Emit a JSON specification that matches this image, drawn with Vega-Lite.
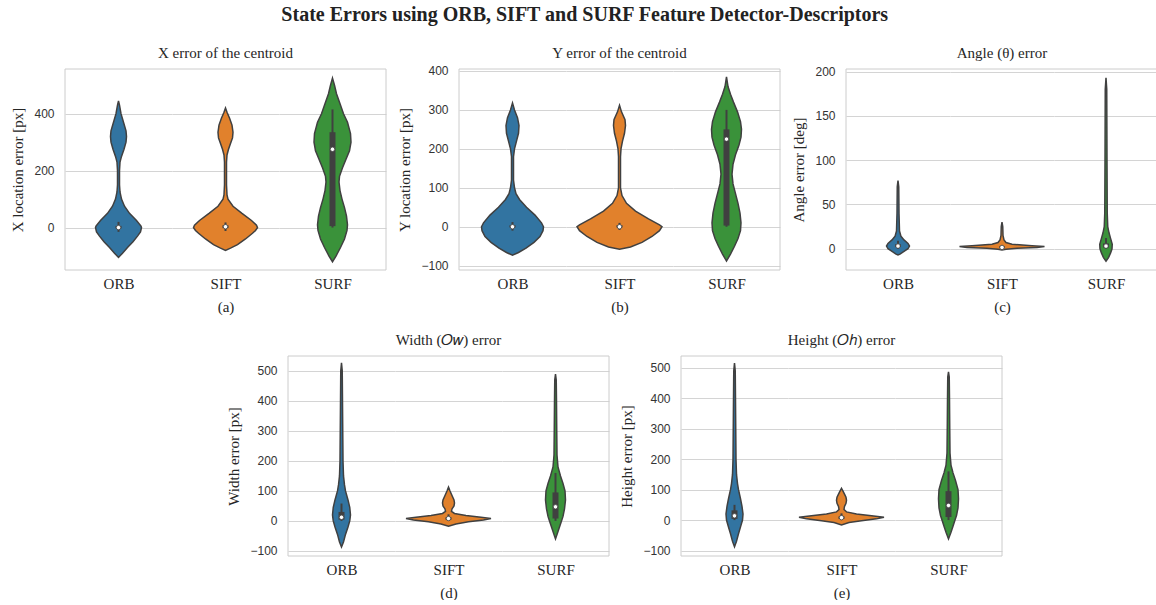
{
"$schema": "https://vega.github.io/schema/vega-lite/v6.json",
"background": "white",
"padding": {"left": 10, "top": 4, "right": 0, "bottom": 0},
"title": {"text": "State Errors using ORB, SIFT and SURF Feature Detector-Descriptors", "font": "Liberation Serif", "fontSize": 20, "fontWeight": "bold", "color": "#222222", "anchor": "middle", "offset": 21},
"config": {
  "view": {"stroke": null},
  "axis": {"gridColor": "#d4d4d4", "gridWidth": 1, "domain": false, "ticks": false, "tickSize": 0, "labelOverlap": false, "labelFont": "Liberation Sans", "labelFontSize": 12, "labelColor": "#333333", "labelPadding": 11, "titleFont": "Liberation Serif", "titleFontSize": 15, "titleFontWeight": "normal", "titleColor": "#262626"},
  "axisY": {"tickCount": 12},
  "title": {"font": "Liberation Serif", "fontWeight": "normal", "fontSize": 15, "color": "#262626"}
},
"datasets": {
  "aORB": [{"det":"ORB","v":445,"w":0},{"det":"ORB","v":430,"w":2},{"det":"ORB","v":400,"w":5},{"det":"ORB","v":370,"w":10},{"det":"ORB","v":340,"w":15},{"det":"ORB","v":320,"w":16},{"det":"ORB","v":300,"w":15},{"det":"ORB","v":275,"w":11},{"det":"ORB","v":250,"w":6},{"det":"ORB","v":230,"w":3},{"det":"ORB","v":200,"w":2},{"det":"ORB","v":150,"w":2},{"det":"ORB","v":125,"w":3},{"det":"ORB","v":100,"w":6},{"det":"ORB","v":75,"w":12},{"det":"ORB","v":50,"w":22},{"det":"ORB","v":25,"w":36},{"det":"ORB","v":5,"w":45},{"det":"ORB","v":0,"w":46},{"det":"ORB","v":-15,"w":44},{"det":"ORB","v":-30,"w":38},{"det":"ORB","v":-50,"w":29},{"det":"ORB","v":-70,"w":18},{"det":"ORB","v":-90,"w":8},{"det":"ORB","v":-105,"w":0}],
  "aSIFT": [{"det":"SIFT","v":420,"w":0},{"det":"SIFT","v":405,"w":3},{"det":"SIFT","v":385,"w":8},{"det":"SIFT","v":360,"w":13},{"det":"SIFT","v":335,"w":15},{"det":"SIFT","v":315,"w":14},{"det":"SIFT","v":295,"w":10},{"det":"SIFT","v":275,"w":6},{"det":"SIFT","v":255,"w":3},{"det":"SIFT","v":230,"w":2},{"det":"SIFT","v":150,"w":2},{"det":"SIFT","v":115,"w":3},{"det":"SIFT","v":100,"w":5},{"det":"SIFT","v":75,"w":15},{"det":"SIFT","v":50,"w":33},{"det":"SIFT","v":25,"w":52},{"det":"SIFT","v":8,"w":62},{"det":"SIFT","v":0,"w":64},{"det":"SIFT","v":-10,"w":60},{"det":"SIFT","v":-20,"w":54},{"det":"SIFT","v":-40,"w":40},{"det":"SIFT","v":-60,"w":24},{"det":"SIFT","v":-72,"w":10},{"det":"SIFT","v":-80,"w":0}],
  "aSURF": [{"det":"SURF","v":525,"w":0},{"det":"SURF","v":500,"w":4},{"det":"SURF","v":470,"w":8},{"det":"SURF","v":440,"w":14},{"det":"SURF","v":400,"w":22},{"det":"SURF","v":370,"w":30},{"det":"SURF","v":330,"w":36},{"det":"SURF","v":300,"w":37},{"det":"SURF","v":270,"w":34},{"det":"SURF","v":240,"w":27},{"det":"SURF","v":210,"w":20},{"det":"SURF","v":180,"w":14},{"det":"SURF","v":160,"w":13},{"det":"SURF","v":130,"w":15},{"det":"SURF","v":100,"w":19},{"det":"SURF","v":70,"w":24},{"det":"SURF","v":40,"w":28},{"det":"SURF","v":10,"w":30},{"det":"SURF","v":-10,"w":29},{"det":"SURF","v":-40,"w":24},{"det":"SURF","v":-70,"w":16},{"det":"SURF","v":-100,"w":7},{"det":"SURF","v":-120,"w":0}],
  "bORB": [{"det":"ORB","v":318,"w":0},{"det":"ORB","v":300,"w":4},{"det":"ORB","v":280,"w":10},{"det":"ORB","v":260,"w":13},{"det":"ORB","v":240,"w":12},{"det":"ORB","v":220,"w":8},{"det":"ORB","v":200,"w":4},{"det":"ORB","v":180,"w":2},{"det":"ORB","v":120,"w":2},{"det":"ORB","v":100,"w":4},{"det":"ORB","v":85,"w":7},{"det":"ORB","v":70,"w":14},{"det":"ORB","v":50,"w":28},{"det":"ORB","v":30,"w":45},{"det":"ORB","v":10,"w":58},{"det":"ORB","v":0,"w":62},{"det":"ORB","v":-10,"w":61},{"det":"ORB","v":-25,"w":55},{"det":"ORB","v":-40,"w":43},{"det":"ORB","v":-55,"w":27},{"det":"ORB","v":-66,"w":12},{"det":"ORB","v":-73,"w":0}],
  "bSIFT": [{"det":"SIFT","v":312,"w":0},{"det":"SIFT","v":295,"w":4},{"det":"SIFT","v":275,"w":11},{"det":"SIFT","v":260,"w":12},{"det":"SIFT","v":240,"w":10},{"det":"SIFT","v":220,"w":6},{"det":"SIFT","v":200,"w":3},{"det":"SIFT","v":180,"w":2},{"det":"SIFT","v":100,"w":2},{"det":"SIFT","v":80,"w":5},{"det":"SIFT","v":60,"w":14},{"det":"SIFT","v":40,"w":32},{"det":"SIFT","v":20,"w":58},{"det":"SIFT","v":5,"w":80},{"det":"SIFT","v":0,"w":85},{"det":"SIFT","v":-10,"w":80},{"det":"SIFT","v":-25,"w":65},{"det":"SIFT","v":-40,"w":45},{"det":"SIFT","v":-52,"w":22},{"det":"SIFT","v":-58,"w":0}],
  "bSURF": [{"det":"SURF","v":385,"w":0},{"det":"SURF","v":360,"w":3},{"det":"SURF","v":340,"w":8},{"det":"SURF","v":320,"w":14},{"det":"SURF","v":295,"w":22},{"det":"SURF","v":270,"w":28},{"det":"SURF","v":250,"w":30},{"det":"SURF","v":230,"w":29},{"det":"SURF","v":210,"w":25},{"det":"SURF","v":185,"w":18},{"det":"SURF","v":160,"w":13},{"det":"SURF","v":135,"w":11},{"det":"SURF","v":110,"w":13},{"det":"SURF","v":85,"w":18},{"det":"SURF","v":60,"w":23},{"det":"SURF","v":35,"w":27},{"det":"SURF","v":10,"w":29},{"det":"SURF","v":-10,"w":28},{"det":"SURF","v":-30,"w":23},{"det":"SURF","v":-50,"w":16},{"det":"SURF","v":-70,"w":8},{"det":"SURF","v":-88,"w":0}],
  "cORB": [{"det":"ORB","v":77,"w":0},{"det":"ORB","v":70,"w":1.5},{"det":"ORB","v":40,"w":2},{"det":"ORB","v":20,"w":3},{"det":"ORB","v":14,"w":6},{"det":"ORB","v":10,"w":12},{"det":"ORB","v":6,"w":20},{"det":"ORB","v":3,"w":23},{"det":"ORB","v":0,"w":20},{"det":"ORB","v":-3,"w":12},{"det":"ORB","v":-6,"w":4},{"det":"ORB","v":-7,"w":0}],
  "cSIFT": [{"det":"SIFT","v":30,"w":0},{"det":"SIFT","v":25,"w":1.5},{"det":"SIFT","v":15,"w":2},{"det":"SIFT","v":10,"w":4},{"det":"SIFT","v":7,"w":8},{"det":"SIFT","v":5,"w":20},{"det":"SIFT","v":3.5,"w":60},{"det":"SIFT","v":2.5,"w":85},{"det":"SIFT","v":1.5,"w":70},{"det":"SIFT","v":0.5,"w":30},{"det":"SIFT","v":-0.5,"w":8},{"det":"SIFT","v":-1.5,"w":0}],
  "cSURF": [{"det":"SURF","v":193,"w":0},{"det":"SURF","v":180,"w":1.5},{"det":"SURF","v":100,"w":2},{"det":"SURF","v":40,"w":2.5},{"det":"SURF","v":25,"w":3.5},{"det":"SURF","v":18,"w":6},{"det":"SURF","v":12,"w":9},{"det":"SURF","v":5,"w":12.5},{"det":"SURF","v":0,"w":12},{"det":"SURF","v":-5,"w":9},{"det":"SURF","v":-10,"w":5},{"det":"SURF","v":-14,"w":0}],
  "dORB": [{"det":"ORB","v":527,"w":0},{"det":"ORB","v":500,"w":1.5},{"det":"ORB","v":400,"w":2},{"det":"ORB","v":300,"w":2.5},{"det":"ORB","v":200,"w":3},{"det":"ORB","v":150,"w":4},{"det":"ORB","v":120,"w":6},{"det":"ORB","v":100,"w":8},{"det":"ORB","v":70,"w":13},{"det":"ORB","v":45,"w":16.5},{"det":"ORB","v":20,"w":18},{"det":"ORB","v":0,"w":16.5},{"det":"ORB","v":-20,"w":13},{"det":"ORB","v":-45,"w":8},{"det":"ORB","v":-70,"w":4},{"det":"ORB","v":-87,"w":0}],
  "dSIFT": [{"det":"SIFT","v":113,"w":0},{"det":"SIFT","v":100,"w":3},{"det":"SIFT","v":85,"w":7},{"det":"SIFT","v":70,"w":11},{"det":"SIFT","v":60,"w":12},{"det":"SIFT","v":50,"w":11},{"det":"SIFT","v":40,"w":7},{"det":"SIFT","v":32,"w":6},{"det":"SIFT","v":25,"w":12},{"det":"SIFT","v":18,"w":35},{"det":"SIFT","v":12,"w":65},{"det":"SIFT","v":8,"w":85},{"det":"SIFT","v":3,"w":70},{"det":"SIFT","v":-3,"w":40},{"det":"SIFT","v":-10,"w":15},{"det":"SIFT","v":-18,"w":0}],
  "dSURF": [{"det":"SURF","v":490,"w":0},{"det":"SURF","v":470,"w":1.5},{"det":"SURF","v":400,"w":2},{"det":"SURF","v":300,"w":2.5},{"det":"SURF","v":220,"w":3},{"det":"SURF","v":180,"w":5},{"det":"SURF","v":150,"w":10},{"det":"SURF","v":125,"w":15},{"det":"SURF","v":100,"w":19},{"det":"SURF","v":70,"w":20},{"det":"SURF","v":40,"w":18},{"det":"SURF","v":15,"w":15},{"det":"SURF","v":0,"w":12},{"det":"SURF","v":-20,"w":8},{"det":"SURF","v":-40,"w":4},{"det":"SURF","v":-60,"w":0}],
  "eORB": [{"det":"ORB","v":516,"w":0},{"det":"ORB","v":490,"w":1.5},{"det":"ORB","v":400,"w":2},{"det":"ORB","v":300,"w":2.5},{"det":"ORB","v":200,"w":3},{"det":"ORB","v":150,"w":4},{"det":"ORB","v":120,"w":6},{"det":"ORB","v":100,"w":8},{"det":"ORB","v":70,"w":12},{"det":"ORB","v":45,"w":15},{"det":"ORB","v":20,"w":17},{"det":"ORB","v":0,"w":16},{"det":"ORB","v":-20,"w":12.5},{"det":"ORB","v":-45,"w":8},{"det":"ORB","v":-70,"w":4},{"det":"ORB","v":-88,"w":0}],
  "eSIFT": [{"det":"SIFT","v":104,"w":0},{"det":"SIFT","v":95,"w":3},{"det":"SIFT","v":85,"w":6},{"det":"SIFT","v":75,"w":9},{"det":"SIFT","v":65,"w":10},{"det":"SIFT","v":55,"w":9},{"det":"SIFT","v":45,"w":6},{"det":"SIFT","v":35,"w":5},{"det":"SIFT","v":27,"w":10},{"det":"SIFT","v":20,"w":30},{"det":"SIFT","v":14,"w":60},{"det":"SIFT","v":9,"w":85},{"det":"SIFT","v":4,"w":70},{"det":"SIFT","v":-2,"w":40},{"det":"SIFT","v":-8,"w":15},{"det":"SIFT","v":-16,"w":0}],
  "eSURF": [{"det":"SURF","v":487,"w":0},{"det":"SURF","v":470,"w":1.5},{"det":"SURF","v":400,"w":2},{"det":"SURF","v":300,"w":2.5},{"det":"SURF","v":220,"w":3},{"det":"SURF","v":180,"w":5},{"det":"SURF","v":155,"w":9},{"det":"SURF","v":130,"w":14},{"det":"SURF","v":100,"w":19},{"det":"SURF","v":70,"w":20},{"det":"SURF","v":40,"w":19},{"det":"SURF","v":15,"w":16},{"det":"SURF","v":0,"w":13},{"det":"SURF","v":-20,"w":9},{"det":"SURF","v":-40,"w":5},{"det":"SURF","v":-62,"w":0}],
  "aORBs": [{"lo":-15,"q1":-3,"med":0,"q3":6,"hi":20}],
  "aSIFTs": [{"lo":-12,"q1":-2,"med":3,"q3":8,"hi":18}],
  "aSURFs": [{"lo":0,"q1":5,"med":275,"q3":335,"hi":415}],
  "bORBs": [{"lo":-10,"q1":-2,"med":0,"q3":4,"hi":12}],
  "bSIFTs": [{"lo":-8,"q1":-2,"med":0,"q3":4,"hi":10}],
  "bSURFs": [{"lo":0,"q1":3,"med":225,"q3":250,"hi":300}],
  "cORBs": [{"lo":0,"q1":2,"med":3,"q3":5,"hi":9}],
  "cSIFTs": [{"lo":0,"q1":1,"med":1.5,"q3":2.5,"hi":4}],
  "cSURFs": [{"lo":0,"q1":1.5,"med":3,"q3":6,"hi":12}],
  "dORBs": [{"lo":0,"q1":4,"med":12,"q3":30,"hi":58}],
  "dSIFTs": [{"lo":0,"q1":4,"med":8,"q3":12,"hi":22}],
  "dSURFs": [{"lo":0,"q1":8,"med":47,"q3":95,"hi":160}],
  "eORBs": [{"lo":0,"q1":4,"med":14,"q3":32,"hi":50}],
  "eSIFTs": [{"lo":0,"q1":4,"med":8,"q3":12,"hi":22}],
  "eSURFs": [{"lo":0,"q1":10,"med":48,"q3":95,"hi":160}],
  "one": [{"k":1}]
},
"vconcat": [
{"hconcat": [
 {"hconcat": [
  {"width": 107, "height": 201, "layer": [
   {"data": {"name": "aORB"}, "mark": {"type": "area", "orient": "horizontal", "stroke": "#404040", "strokeWidth": 1.5, "opacity": 1},
    "encoding": {"y": {"field": "v", "type": "quantitative", "scale": {"domain": [-149, 557], "nice": false, "zero": false}, "axis": {"title": "X location error [px]", "values": [0, 200, 400], "tickCount": 12, "titlePadding": 8}},
     "x": {"field": "w", "type": "quantitative", "stack": "center", "scale": {"domain": [-30.5, 76.5], "nice": false, "zero": false}, "axis": {"title": "ORB", "labels": false, "grid": false, "titlePadding": 6}},
     "color": {"field": "det", "type": "nominal", "scale": {"domain": ["ORB", "SIFT", "SURF"], "range": ["#3274a1", "#e1812c", "#3a923a"]}, "legend": null}}},
   {"data": {"name": "aORBs"}, "mark": {"type": "rule", "color": "#404040", "strokeWidth": 2}, "encoding": {"x": {"datum": 23}, "y": {"field": "lo", "type": "quantitative"}, "y2": {"field": "hi"}}},
   {"data": {"name": "aORBs"}, "mark": {"type": "rule", "color": "#404040", "strokeWidth": 6}, "encoding": {"x": {"datum": 23}, "y": {"field": "q1", "type": "quantitative"}, "y2": {"field": "q3"}}},
   {"data": {"name": "aORBs"}, "mark": {"type": "point", "filled": true, "fill": "white", "stroke": "#404040", "strokeWidth": 0.8, "size": 20, "opacity": 1}, "encoding": {"x": {"datum": 23}, "y": {"field": "med", "type": "quantitative"}}},
   {"data": {"name": "one"}, "mark": {"type": "rule", "color": "#cccccc"}, "encoding": {"y": {"datum": 557}}},
   {"data": {"name": "one"}, "mark": {"type": "rule", "color": "#cccccc"}, "encoding": {"y": {"datum": -149}}},
   {"data": {"name": "one"}, "mark": {"type": "rule", "color": "#cccccc"}, "encoding": {"x": {"datum": -30.5}}}
  ]},
  {"width": 107, "height": 201, "title": {"text": "X error of the centroid", "offset": 8}, "layer": [
   {"data": {"name": "aSIFT"}, "mark": {"type": "area", "orient": "horizontal", "stroke": "#404040", "strokeWidth": 1.5, "opacity": 1},
    "encoding": {"y": {"field": "v", "type": "quantitative", "scale": {"domain": [-149, 557], "nice": false, "zero": false}, "axis": {"title": null, "labels": false, "values": [0, 200, 400], "tickCount": 12}},
     "x": {"field": "w", "type": "quantitative", "stack": "center", "scale": {"domain": [-21.5, 85.5], "nice": false, "zero": false}, "axis": {"title": ["SIFT", "(a)"], "titleLineHeight": 23, "labels": false, "grid": false, "titlePadding": 6}},
     "color": {"field": "det", "type": "nominal", "scale": {"domain": ["ORB", "SIFT", "SURF"], "range": ["#3274a1", "#e1812c", "#3a923a"]}, "legend": null}}},
   {"data": {"name": "aSIFTs"}, "mark": {"type": "rule", "color": "#404040", "strokeWidth": 2}, "encoding": {"x": {"datum": 32}, "y": {"field": "lo", "type": "quantitative"}, "y2": {"field": "hi"}}},
   {"data": {"name": "aSIFTs"}, "mark": {"type": "rule", "color": "#404040", "strokeWidth": 6}, "encoding": {"x": {"datum": 32}, "y": {"field": "q1", "type": "quantitative"}, "y2": {"field": "q3"}}},
   {"data": {"name": "aSIFTs"}, "mark": {"type": "point", "filled": true, "fill": "white", "stroke": "#404040", "strokeWidth": 0.8, "size": 20, "opacity": 1}, "encoding": {"x": {"datum": 32}, "y": {"field": "med", "type": "quantitative"}}},
   {"data": {"name": "one"}, "mark": {"type": "rule", "color": "#cccccc"}, "encoding": {"y": {"datum": 557}}},
   {"data": {"name": "one"}, "mark": {"type": "rule", "color": "#cccccc"}, "encoding": {"y": {"datum": -149}}}
  ]},
  {"width": 107, "height": 201, "layer": [
   {"data": {"name": "aSURF"}, "mark": {"type": "area", "orient": "horizontal", "stroke": "#404040", "strokeWidth": 1.5, "opacity": 1},
    "encoding": {"y": {"field": "v", "type": "quantitative", "scale": {"domain": [-149, 557], "nice": false, "zero": false}, "axis": {"title": null, "labels": false, "values": [0, 200, 400], "tickCount": 12}},
     "x": {"field": "w", "type": "quantitative", "stack": "center", "scale": {"domain": [-35, 72], "nice": false, "zero": false}, "axis": {"title": "SURF", "labels": false, "grid": false, "titlePadding": 6}},
     "color": {"field": "det", "type": "nominal", "scale": {"domain": ["ORB", "SIFT", "SURF"], "range": ["#3274a1", "#e1812c", "#3a923a"]}, "legend": null}}},
   {"data": {"name": "aSURFs"}, "mark": {"type": "rule", "color": "#404040", "strokeWidth": 2}, "encoding": {"x": {"datum": 18.5}, "y": {"field": "lo", "type": "quantitative"}, "y2": {"field": "hi"}}},
   {"data": {"name": "aSURFs"}, "mark": {"type": "rule", "color": "#404040", "strokeWidth": 6}, "encoding": {"x": {"datum": 18.5}, "y": {"field": "q1", "type": "quantitative"}, "y2": {"field": "q3"}}},
   {"data": {"name": "aSURFs"}, "mark": {"type": "point", "filled": true, "fill": "white", "stroke": "#404040", "strokeWidth": 0.8, "size": 20, "opacity": 1}, "encoding": {"x": {"datum": 18.5}, "y": {"field": "med", "type": "quantitative"}}},
   {"data": {"name": "one"}, "mark": {"type": "rule", "color": "#cccccc"}, "encoding": {"y": {"datum": 557}}},
   {"data": {"name": "one"}, "mark": {"type": "rule", "color": "#cccccc"}, "encoding": {"y": {"datum": -149}}},
   {"data": {"name": "one"}, "mark": {"type": "rule", "color": "#cccccc"}, "encoding": {"x": {"datum": 72}}}
  ]}
 ], "spacing": 0, "bounds": "flush", "resolve": {"scale": {"x": "independent", "y": "independent"}}},
 {"hconcat": [
  {"width": 107, "height": 201, "layer": [
   {"data": {"name": "bORB"}, "mark": {"type": "area", "orient": "horizontal", "stroke": "#404040", "strokeWidth": 1.5, "opacity": 1},
    "encoding": {"y": {"field": "v", "type": "quantitative", "scale": {"domain": [-111, 405], "nice": false, "zero": false}, "axis": {"title": "Y location error [px]", "values": [-100, 0, 100, 200, 300, 400], "tickCount": 12, "titlePadding": 8}},
     "x": {"field": "w", "type": "quantitative", "stack": "center", "scale": {"domain": [-22.5, 84.5], "nice": false, "zero": false}, "axis": {"title": "ORB", "labels": false, "grid": false, "titlePadding": 6}},
     "color": {"field": "det", "type": "nominal", "scale": {"domain": ["ORB", "SIFT", "SURF"], "range": ["#3274a1", "#e1812c", "#3a923a"]}, "legend": null}}},
   {"data": {"name": "bORBs"}, "mark": {"type": "rule", "color": "#404040", "strokeWidth": 2}, "encoding": {"x": {"datum": 31}, "y": {"field": "lo", "type": "quantitative"}, "y2": {"field": "hi"}}},
   {"data": {"name": "bORBs"}, "mark": {"type": "rule", "color": "#404040", "strokeWidth": 6}, "encoding": {"x": {"datum": 31}, "y": {"field": "q1", "type": "quantitative"}, "y2": {"field": "q3"}}},
   {"data": {"name": "bORBs"}, "mark": {"type": "point", "filled": true, "fill": "white", "stroke": "#404040", "strokeWidth": 0.8, "size": 20, "opacity": 1}, "encoding": {"x": {"datum": 31}, "y": {"field": "med", "type": "quantitative"}}},
   {"data": {"name": "one"}, "mark": {"type": "rule", "color": "#cccccc"}, "encoding": {"y": {"datum": 405}}},
   {"data": {"name": "one"}, "mark": {"type": "rule", "color": "#cccccc"}, "encoding": {"y": {"datum": -111}}},
   {"data": {"name": "one"}, "mark": {"type": "rule", "color": "#cccccc"}, "encoding": {"x": {"datum": -22.5}}}
  ]},
  {"width": 107, "height": 201, "title": {"text": "Y error of the centroid", "offset": 8}, "layer": [
   {"data": {"name": "bSIFT"}, "mark": {"type": "area", "orient": "horizontal", "stroke": "#404040", "strokeWidth": 1.5, "opacity": 1},
    "encoding": {"y": {"field": "v", "type": "quantitative", "scale": {"domain": [-111, 405], "nice": false, "zero": false}, "axis": {"title": null, "labels": false, "values": [-100, 0, 100, 200, 300, 400], "tickCount": 12}},
     "x": {"field": "w", "type": "quantitative", "stack": "center", "scale": {"domain": [-11, 96], "nice": false, "zero": false}, "axis": {"title": ["SIFT", "(b)"], "titleLineHeight": 23, "labels": false, "grid": false, "titlePadding": 6}},
     "color": {"field": "det", "type": "nominal", "scale": {"domain": ["ORB", "SIFT", "SURF"], "range": ["#3274a1", "#e1812c", "#3a923a"]}, "legend": null}}},
   {"data": {"name": "bSIFTs"}, "mark": {"type": "rule", "color": "#404040", "strokeWidth": 2}, "encoding": {"x": {"datum": 42.5}, "y": {"field": "lo", "type": "quantitative"}, "y2": {"field": "hi"}}},
   {"data": {"name": "bSIFTs"}, "mark": {"type": "rule", "color": "#404040", "strokeWidth": 6}, "encoding": {"x": {"datum": 42.5}, "y": {"field": "q1", "type": "quantitative"}, "y2": {"field": "q3"}}},
   {"data": {"name": "bSIFTs"}, "mark": {"type": "point", "filled": true, "fill": "white", "stroke": "#404040", "strokeWidth": 0.8, "size": 20, "opacity": 1}, "encoding": {"x": {"datum": 42.5}, "y": {"field": "med", "type": "quantitative"}}},
   {"data": {"name": "one"}, "mark": {"type": "rule", "color": "#cccccc"}, "encoding": {"y": {"datum": 405}}},
   {"data": {"name": "one"}, "mark": {"type": "rule", "color": "#cccccc"}, "encoding": {"y": {"datum": -111}}}
  ]},
  {"width": 107, "height": 201, "layer": [
   {"data": {"name": "bSURF"}, "mark": {"type": "area", "orient": "horizontal", "stroke": "#404040", "strokeWidth": 1.5, "opacity": 1},
    "encoding": {"y": {"field": "v", "type": "quantitative", "scale": {"domain": [-111, 405], "nice": false, "zero": false}, "axis": {"title": null, "labels": false, "values": [-100, 0, 100, 200, 300, 400], "tickCount": 12}},
     "x": {"field": "w", "type": "quantitative", "stack": "center", "scale": {"domain": [-38.5, 68.5], "nice": false, "zero": false}, "axis": {"title": "SURF", "labels": false, "grid": false, "titlePadding": 6}},
     "color": {"field": "det", "type": "nominal", "scale": {"domain": ["ORB", "SIFT", "SURF"], "range": ["#3274a1", "#e1812c", "#3a923a"]}, "legend": null}}},
   {"data": {"name": "bSURFs"}, "mark": {"type": "rule", "color": "#404040", "strokeWidth": 2}, "encoding": {"x": {"datum": 15}, "y": {"field": "lo", "type": "quantitative"}, "y2": {"field": "hi"}}},
   {"data": {"name": "bSURFs"}, "mark": {"type": "rule", "color": "#404040", "strokeWidth": 6}, "encoding": {"x": {"datum": 15}, "y": {"field": "q1", "type": "quantitative"}, "y2": {"field": "q3"}}},
   {"data": {"name": "bSURFs"}, "mark": {"type": "point", "filled": true, "fill": "white", "stroke": "#404040", "strokeWidth": 0.8, "size": 20, "opacity": 1}, "encoding": {"x": {"datum": 15}, "y": {"field": "med", "type": "quantitative"}}},
   {"data": {"name": "one"}, "mark": {"type": "rule", "color": "#cccccc"}, "encoding": {"y": {"datum": 405}}},
   {"data": {"name": "one"}, "mark": {"type": "rule", "color": "#cccccc"}, "encoding": {"y": {"datum": -111}}},
   {"data": {"name": "one"}, "mark": {"type": "rule", "color": "#cccccc"}, "encoding": {"x": {"datum": 68.5}}}
  ]}
 ], "spacing": 0, "bounds": "flush", "resolve": {"scale": {"x": "independent", "y": "independent"}}},
 {"hconcat": [
  {"width": 104, "height": 201, "layer": [
   {"data": {"name": "cORB"}, "mark": {"type": "area", "orient": "horizontal", "stroke": "#404040", "strokeWidth": 1.5, "opacity": 1},
    "encoding": {"y": {"field": "v", "type": "quantitative", "scale": {"domain": [-24, 203], "nice": false, "zero": false}, "axis": {"title": "Angle error [deg]", "values": [0, 50, 100, 150, 200], "tickCount": 12, "titlePadding": 8}},
     "x": {"field": "w", "type": "quantitative", "stack": "center", "scale": {"domain": [-40.5, 63.5], "nice": false, "zero": false}, "axis": {"title": "ORB", "labels": false, "grid": false, "titlePadding": 6}},
     "color": {"field": "det", "type": "nominal", "scale": {"domain": ["ORB", "SIFT", "SURF"], "range": ["#3274a1", "#e1812c", "#3a923a"]}, "legend": null}}},
   {"data": {"name": "cORBs"}, "mark": {"type": "rule", "color": "#404040", "strokeWidth": 2}, "encoding": {"x": {"datum": 11.5}, "y": {"field": "lo", "type": "quantitative"}, "y2": {"field": "hi"}}},
   {"data": {"name": "cORBs"}, "mark": {"type": "rule", "color": "#404040", "strokeWidth": 6}, "encoding": {"x": {"datum": 11.5}, "y": {"field": "q1", "type": "quantitative"}, "y2": {"field": "q3"}}},
   {"data": {"name": "cORBs"}, "mark": {"type": "point", "filled": true, "fill": "white", "stroke": "#404040", "strokeWidth": 0.8, "size": 20, "opacity": 1}, "encoding": {"x": {"datum": 11.5}, "y": {"field": "med", "type": "quantitative"}}},
   {"data": {"name": "one"}, "mark": {"type": "rule", "color": "#cccccc"}, "encoding": {"y": {"datum": 203}}},
   {"data": {"name": "one"}, "mark": {"type": "rule", "color": "#cccccc"}, "encoding": {"y": {"datum": -24}}},
   {"data": {"name": "one"}, "mark": {"type": "rule", "color": "#cccccc"}, "encoding": {"x": {"datum": -40.5}}}
  ]},
  {"width": 104, "height": 201, "title": {"text": "Angle (θ) error", "offset": 8}, "layer": [
   {"data": {"name": "cSIFT"}, "mark": {"type": "area", "orient": "horizontal", "stroke": "#404040", "strokeWidth": 1.5, "opacity": 1},
    "encoding": {"y": {"field": "v", "type": "quantitative", "scale": {"domain": [-24, 203], "nice": false, "zero": false}, "axis": {"title": null, "labels": false, "values": [0, 50, 100, 150, 200], "tickCount": 12}},
     "x": {"field": "w", "type": "quantitative", "stack": "center", "scale": {"domain": [-9.5, 94.5], "nice": false, "zero": false}, "axis": {"title": ["SIFT", "(c)"], "titleLineHeight": 23, "labels": false, "grid": false, "titlePadding": 6}},
     "color": {"field": "det", "type": "nominal", "scale": {"domain": ["ORB", "SIFT", "SURF"], "range": ["#3274a1", "#e1812c", "#3a923a"]}, "legend": null}}},
   {"data": {"name": "cSIFTs"}, "mark": {"type": "rule", "color": "#404040", "strokeWidth": 2}, "encoding": {"x": {"datum": 42.5}, "y": {"field": "lo", "type": "quantitative"}, "y2": {"field": "hi"}}},
   {"data": {"name": "cSIFTs"}, "mark": {"type": "rule", "color": "#404040", "strokeWidth": 6}, "encoding": {"x": {"datum": 42.5}, "y": {"field": "q1", "type": "quantitative"}, "y2": {"field": "q3"}}},
   {"data": {"name": "cSIFTs"}, "mark": {"type": "point", "filled": true, "fill": "white", "stroke": "#404040", "strokeWidth": 0.8, "size": 20, "opacity": 1}, "encoding": {"x": {"datum": 42.5}, "y": {"field": "med", "type": "quantitative"}}},
   {"data": {"name": "one"}, "mark": {"type": "rule", "color": "#cccccc"}, "encoding": {"y": {"datum": 203}}},
   {"data": {"name": "one"}, "mark": {"type": "rule", "color": "#cccccc"}, "encoding": {"y": {"datum": -24}}}
  ]},
  {"width": 104, "height": 201, "layer": [
   {"data": {"name": "cSURF"}, "mark": {"type": "area", "orient": "horizontal", "stroke": "#404040", "strokeWidth": 1.5, "opacity": 1},
    "encoding": {"y": {"field": "v", "type": "quantitative", "scale": {"domain": [-24, 203], "nice": false, "zero": false}, "axis": {"title": null, "labels": false, "values": [0, 50, 100, 150, 200], "tickCount": 12}},
     "x": {"field": "w", "type": "quantitative", "stack": "center", "scale": {"domain": [-45.75, 58.25], "nice": false, "zero": false}, "axis": {"title": "SURF", "labels": false, "grid": false, "titlePadding": 6}},
     "color": {"field": "det", "type": "nominal", "scale": {"domain": ["ORB", "SIFT", "SURF"], "range": ["#3274a1", "#e1812c", "#3a923a"]}, "legend": null}}},
   {"data": {"name": "cSURFs"}, "mark": {"type": "rule", "color": "#404040", "strokeWidth": 2}, "encoding": {"x": {"datum": 6.25}, "y": {"field": "lo", "type": "quantitative"}, "y2": {"field": "hi"}}},
   {"data": {"name": "cSURFs"}, "mark": {"type": "rule", "color": "#404040", "strokeWidth": 6}, "encoding": {"x": {"datum": 6.25}, "y": {"field": "q1", "type": "quantitative"}, "y2": {"field": "q3"}}},
   {"data": {"name": "cSURFs"}, "mark": {"type": "point", "filled": true, "fill": "white", "stroke": "#404040", "strokeWidth": 0.8, "size": 20, "opacity": 1}, "encoding": {"x": {"datum": 6.25}, "y": {"field": "med", "type": "quantitative"}}},
   {"data": {"name": "one"}, "mark": {"type": "rule", "color": "#cccccc"}, "encoding": {"y": {"datum": 203}}},
   {"data": {"name": "one"}, "mark": {"type": "rule", "color": "#cccccc"}, "encoding": {"y": {"datum": -24}}}
  ]}
 ], "spacing": 0, "bounds": "flush", "resolve": {"scale": {"x": "independent", "y": "independent"}}}
], "spacing": 10},
{"hconcat": [
 {"width": 152, "height": 10, "data": {"name": "one"}, "mark": {"type": "point", "opacity": 0}, "encoding": {}},
 {"hconcat": [
  {"width": 107, "height": 200, "layer": [
   {"data": {"name": "dORB"}, "mark": {"type": "area", "orient": "horizontal", "stroke": "#404040", "strokeWidth": 1.5, "opacity": 1},
    "encoding": {"y": {"field": "v", "type": "quantitative", "scale": {"domain": [-117, 550], "nice": false, "zero": false}, "axis": {"title": "Width error [px]", "values": [-100, 0, 100, 200, 300, 400, 500], "tickCount": 12, "titlePadding": 8}},
     "x": {"field": "w", "type": "quantitative", "stack": "center", "scale": {"domain": [-44.5, 62.5], "nice": false, "zero": false}, "axis": {"title": "ORB", "labels": false, "grid": false, "titlePadding": 6}},
     "color": {"field": "det", "type": "nominal", "scale": {"domain": ["ORB", "SIFT", "SURF"], "range": ["#3274a1", "#e1812c", "#3a923a"]}, "legend": null}}},
   {"data": {"name": "dORBs"}, "mark": {"type": "rule", "color": "#404040", "strokeWidth": 2}, "encoding": {"x": {"datum": 9}, "y": {"field": "lo", "type": "quantitative"}, "y2": {"field": "hi"}}},
   {"data": {"name": "dORBs"}, "mark": {"type": "rule", "color": "#404040", "strokeWidth": 6}, "encoding": {"x": {"datum": 9}, "y": {"field": "q1", "type": "quantitative"}, "y2": {"field": "q3"}}},
   {"data": {"name": "dORBs"}, "mark": {"type": "point", "filled": true, "fill": "white", "stroke": "#404040", "strokeWidth": 0.8, "size": 20, "opacity": 1}, "encoding": {"x": {"datum": 9}, "y": {"field": "med", "type": "quantitative"}}},
   {"data": {"name": "one"}, "mark": {"type": "rule", "color": "#cccccc"}, "encoding": {"y": {"datum": 550}}},
   {"data": {"name": "one"}, "mark": {"type": "rule", "color": "#cccccc"}, "encoding": {"y": {"datum": -117}}},
   {"data": {"name": "one"}, "mark": {"type": "rule", "color": "#cccccc"}, "encoding": {"x": {"datum": -44.5}}}
  ]},
  {"width": 107, "height": 200, "title": {"text": "Width (𝑂𝑤) error", "offset": 8}, "layer": [
   {"data": {"name": "dSIFT"}, "mark": {"type": "area", "orient": "horizontal", "stroke": "#404040", "strokeWidth": 1.5, "opacity": 1},
    "encoding": {"y": {"field": "v", "type": "quantitative", "scale": {"domain": [-117, 550], "nice": false, "zero": false}, "axis": {"title": null, "labels": false, "values": [-100, 0, 100, 200, 300, 400, 500], "tickCount": 12}},
     "x": {"field": "w", "type": "quantitative", "stack": "center", "scale": {"domain": [-11, 96], "nice": false, "zero": false}, "axis": {"title": ["SIFT", "(d)"], "titleLineHeight": 23, "labels": false, "grid": false, "titlePadding": 6}},
     "color": {"field": "det", "type": "nominal", "scale": {"domain": ["ORB", "SIFT", "SURF"], "range": ["#3274a1", "#e1812c", "#3a923a"]}, "legend": null}}},
   {"data": {"name": "dSIFTs"}, "mark": {"type": "rule", "color": "#404040", "strokeWidth": 2}, "encoding": {"x": {"datum": 42.5}, "y": {"field": "lo", "type": "quantitative"}, "y2": {"field": "hi"}}},
   {"data": {"name": "dSIFTs"}, "mark": {"type": "rule", "color": "#404040", "strokeWidth": 6}, "encoding": {"x": {"datum": 42.5}, "y": {"field": "q1", "type": "quantitative"}, "y2": {"field": "q3"}}},
   {"data": {"name": "dSIFTs"}, "mark": {"type": "point", "filled": true, "fill": "white", "stroke": "#404040", "strokeWidth": 0.8, "size": 20, "opacity": 1}, "encoding": {"x": {"datum": 42.5}, "y": {"field": "med", "type": "quantitative"}}},
   {"data": {"name": "one"}, "mark": {"type": "rule", "color": "#cccccc"}, "encoding": {"y": {"datum": 550}}},
   {"data": {"name": "one"}, "mark": {"type": "rule", "color": "#cccccc"}, "encoding": {"y": {"datum": -117}}}
  ]},
  {"width": 107, "height": 200, "layer": [
   {"data": {"name": "dSURF"}, "mark": {"type": "area", "orient": "horizontal", "stroke": "#404040", "strokeWidth": 1.5, "opacity": 1},
    "encoding": {"y": {"field": "v", "type": "quantitative", "scale": {"domain": [-117, 550], "nice": false, "zero": false}, "axis": {"title": null, "labels": false, "values": [-100, 0, 100, 200, 300, 400, 500], "tickCount": 12}},
     "x": {"field": "w", "type": "quantitative", "stack": "center", "scale": {"domain": [-43.5, 63.5], "nice": false, "zero": false}, "axis": {"title": "SURF", "labels": false, "grid": false, "titlePadding": 6}},
     "color": {"field": "det", "type": "nominal", "scale": {"domain": ["ORB", "SIFT", "SURF"], "range": ["#3274a1", "#e1812c", "#3a923a"]}, "legend": null}}},
   {"data": {"name": "dSURFs"}, "mark": {"type": "rule", "color": "#404040", "strokeWidth": 2}, "encoding": {"x": {"datum": 10}, "y": {"field": "lo", "type": "quantitative"}, "y2": {"field": "hi"}}},
   {"data": {"name": "dSURFs"}, "mark": {"type": "rule", "color": "#404040", "strokeWidth": 6}, "encoding": {"x": {"datum": 10}, "y": {"field": "q1", "type": "quantitative"}, "y2": {"field": "q3"}}},
   {"data": {"name": "dSURFs"}, "mark": {"type": "point", "filled": true, "fill": "white", "stroke": "#404040", "strokeWidth": 0.8, "size": 20, "opacity": 1}, "encoding": {"x": {"datum": 10}, "y": {"field": "med", "type": "quantitative"}}},
   {"data": {"name": "one"}, "mark": {"type": "rule", "color": "#cccccc"}, "encoding": {"y": {"datum": 550}}},
   {"data": {"name": "one"}, "mark": {"type": "rule", "color": "#cccccc"}, "encoding": {"y": {"datum": -117}}},
   {"data": {"name": "one"}, "mark": {"type": "rule", "color": "#cccccc"}, "encoding": {"x": {"datum": 63.5}}}
  ]}
 ], "spacing": 0, "bounds": "flush", "resolve": {"scale": {"x": "independent", "y": "independent"}}},
 {"hconcat": [
  {"width": 107, "height": 200, "layer": [
   {"data": {"name": "eORB"}, "mark": {"type": "area", "orient": "horizontal", "stroke": "#404040", "strokeWidth": 1.5, "opacity": 1},
    "encoding": {"y": {"field": "v", "type": "quantitative", "scale": {"domain": [-118, 539], "nice": false, "zero": false}, "axis": {"title": "Height error [px]", "values": [-100, 0, 100, 200, 300, 400, 500], "tickCount": 12, "titlePadding": 8}},
     "x": {"field": "w", "type": "quantitative", "stack": "center", "scale": {"domain": [-45, 62], "nice": false, "zero": false}, "axis": {"title": "ORB", "labels": false, "grid": false, "titlePadding": 6}},
     "color": {"field": "det", "type": "nominal", "scale": {"domain": ["ORB", "SIFT", "SURF"], "range": ["#3274a1", "#e1812c", "#3a923a"]}, "legend": null}}},
   {"data": {"name": "eORBs"}, "mark": {"type": "rule", "color": "#404040", "strokeWidth": 2}, "encoding": {"x": {"datum": 8.5}, "y": {"field": "lo", "type": "quantitative"}, "y2": {"field": "hi"}}},
   {"data": {"name": "eORBs"}, "mark": {"type": "rule", "color": "#404040", "strokeWidth": 6}, "encoding": {"x": {"datum": 8.5}, "y": {"field": "q1", "type": "quantitative"}, "y2": {"field": "q3"}}},
   {"data": {"name": "eORBs"}, "mark": {"type": "point", "filled": true, "fill": "white", "stroke": "#404040", "strokeWidth": 0.8, "size": 20, "opacity": 1}, "encoding": {"x": {"datum": 8.5}, "y": {"field": "med", "type": "quantitative"}}},
   {"data": {"name": "one"}, "mark": {"type": "rule", "color": "#cccccc"}, "encoding": {"y": {"datum": 539}}},
   {"data": {"name": "one"}, "mark": {"type": "rule", "color": "#cccccc"}, "encoding": {"y": {"datum": -118}}},
   {"data": {"name": "one"}, "mark": {"type": "rule", "color": "#cccccc"}, "encoding": {"x": {"datum": -45}}}
  ]},
  {"width": 107, "height": 200, "title": {"text": "Height (𝑂ℎ) error", "offset": 8}, "layer": [
   {"data": {"name": "eSIFT"}, "mark": {"type": "area", "orient": "horizontal", "stroke": "#404040", "strokeWidth": 1.5, "opacity": 1},
    "encoding": {"y": {"field": "v", "type": "quantitative", "scale": {"domain": [-118, 539], "nice": false, "zero": false}, "axis": {"title": null, "labels": false, "values": [-100, 0, 100, 200, 300, 400, 500], "tickCount": 12}},
     "x": {"field": "w", "type": "quantitative", "stack": "center", "scale": {"domain": [-11, 96], "nice": false, "zero": false}, "axis": {"title": ["SIFT", "(e)"], "titleLineHeight": 23, "labels": false, "grid": false, "titlePadding": 6}},
     "color": {"field": "det", "type": "nominal", "scale": {"domain": ["ORB", "SIFT", "SURF"], "range": ["#3274a1", "#e1812c", "#3a923a"]}, "legend": null}}},
   {"data": {"name": "eSIFTs"}, "mark": {"type": "rule", "color": "#404040", "strokeWidth": 2}, "encoding": {"x": {"datum": 42.5}, "y": {"field": "lo", "type": "quantitative"}, "y2": {"field": "hi"}}},
   {"data": {"name": "eSIFTs"}, "mark": {"type": "rule", "color": "#404040", "strokeWidth": 6}, "encoding": {"x": {"datum": 42.5}, "y": {"field": "q1", "type": "quantitative"}, "y2": {"field": "q3"}}},
   {"data": {"name": "eSIFTs"}, "mark": {"type": "point", "filled": true, "fill": "white", "stroke": "#404040", "strokeWidth": 0.8, "size": 20, "opacity": 1}, "encoding": {"x": {"datum": 42.5}, "y": {"field": "med", "type": "quantitative"}}},
   {"data": {"name": "one"}, "mark": {"type": "rule", "color": "#cccccc"}, "encoding": {"y": {"datum": 539}}},
   {"data": {"name": "one"}, "mark": {"type": "rule", "color": "#cccccc"}, "encoding": {"y": {"datum": -118}}}
  ]},
  {"width": 107, "height": 200, "layer": [
   {"data": {"name": "eSURF"}, "mark": {"type": "area", "orient": "horizontal", "stroke": "#404040", "strokeWidth": 1.5, "opacity": 1},
    "encoding": {"y": {"field": "v", "type": "quantitative", "scale": {"domain": [-118, 539], "nice": false, "zero": false}, "axis": {"title": null, "labels": false, "values": [-100, 0, 100, 200, 300, 400, 500], "tickCount": 12}},
     "x": {"field": "w", "type": "quantitative", "stack": "center", "scale": {"domain": [-43.5, 63.5], "nice": false, "zero": false}, "axis": {"title": "SURF", "labels": false, "grid": false, "titlePadding": 6}},
     "color": {"field": "det", "type": "nominal", "scale": {"domain": ["ORB", "SIFT", "SURF"], "range": ["#3274a1", "#e1812c", "#3a923a"]}, "legend": null}}},
   {"data": {"name": "eSURFs"}, "mark": {"type": "rule", "color": "#404040", "strokeWidth": 2}, "encoding": {"x": {"datum": 10}, "y": {"field": "lo", "type": "quantitative"}, "y2": {"field": "hi"}}},
   {"data": {"name": "eSURFs"}, "mark": {"type": "rule", "color": "#404040", "strokeWidth": 6}, "encoding": {"x": {"datum": 10}, "y": {"field": "q1", "type": "quantitative"}, "y2": {"field": "q3"}}},
   {"data": {"name": "eSURFs"}, "mark": {"type": "point", "filled": true, "fill": "white", "stroke": "#404040", "strokeWidth": 0.8, "size": 20, "opacity": 1}, "encoding": {"x": {"datum": 10}, "y": {"field": "med", "type": "quantitative"}}},
   {"data": {"name": "one"}, "mark": {"type": "rule", "color": "#cccccc"}, "encoding": {"y": {"datum": 539}}},
   {"data": {"name": "one"}, "mark": {"type": "rule", "color": "#cccccc"}, "encoding": {"y": {"datum": -118}}},
   {"data": {"name": "one"}, "mark": {"type": "rule", "color": "#cccccc"}, "encoding": {"x": {"datum": 63.5}}}
  ]}
 ], "spacing": 0, "bounds": "flush", "resolve": {"scale": {"x": "independent", "y": "independent"}}}
], "spacing": 9}
], "spacing": 18
}
